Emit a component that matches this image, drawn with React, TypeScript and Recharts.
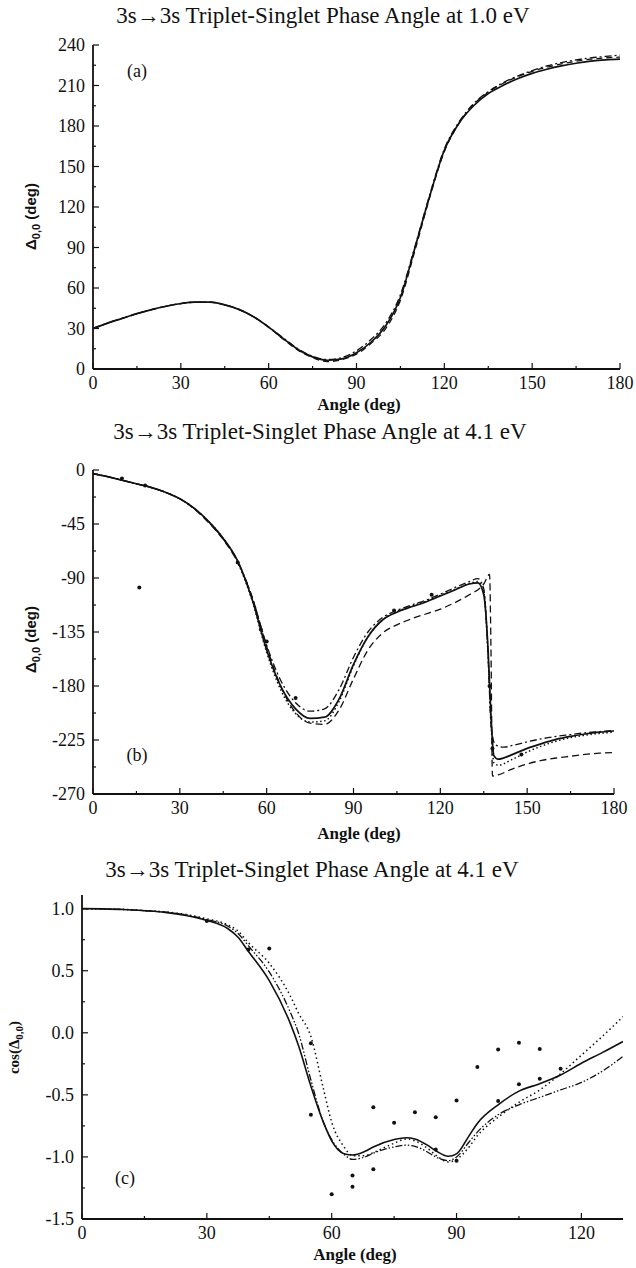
import { ComposedChart, Line, Scatter, XAxis, YAxis } from "recharts";

const SERIF = '"Liberation Serif", "DejaVu Serif", serif';
const INK = "#111";

// ---- (a) 1.0 eV ----
const angleA = [0, 5, 10, 15, 20, 25, 30, 35, 40, 45, 50, 55, 60, 65, 70, 75, 80, 85, 90, 95, 100, 105, 110, 115, 120, 125, 130, 135, 140, 145, 150, 155, 160, 165, 170, 175, 180];
const solidA = [30, 34, 37.5, 41, 44, 46.5, 48.5, 49.5, 49.5, 47.5, 44, 38.5, 31, 22.5, 14.5, 9, 6.5, 7.5, 12, 20, 32, 53, 90, 128, 162, 182, 195, 204, 210, 215, 219, 222, 224.5, 226.5, 228, 229, 229.5];
const dashedA = [30, 34, 37.5, 41, 44, 46.5, 48.5, 49.5, 49.5, 47.5, 44, 38.5, 31, 22, 14, 8.5, 5.5, 7, 11, 19, 30, 51, 88, 127, 161, 182, 196, 205, 211.5, 216.5, 220.5, 223.5, 226, 228, 229.5, 230.5, 231];
const dashDotA = [30, 34, 37.5, 41, 44, 46.5, 48.5, 49.5, 49.5, 47.5, 44, 38.5, 31, 23, 15, 9.5, 7, 8.5, 13.5, 22, 34, 55, 91, 129, 163, 183, 196.5, 205.5, 212, 217, 221, 224.5, 227, 229, 230.5, 231.5, 232.5];

// ---- (b) 4.1 eV ----
const angleB = [0, 5, 10, 15, 20, 25, 30, 35, 40, 45, 50, 55, 60, 65, 70, 75, 80, 85, 90, 95, 100, 105, 110, 115, 120, 125, 130, 133, 135, 136.5, 137.5, 138.5, 140, 145, 150, 155, 160, 165, 170, 175, 180];
const solidB = [-3, -5.5, -8.5, -11.5, -14.5, -18.5, -24, -32, -43, -57, -76, -108, -150, -181, -199, -207, -206, -191, -162, -139, -125, -118.5, -114, -110, -105, -100, -95, -94, -104, -150, -205, -238, -241, -237, -232, -228, -224.5, -222, -220, -218.5, -217.5];
const dottedB = [-3, -5.5, -8.5, -11.5, -14.5, -18.5, -24, -32, -43, -57, -77, -109, -152, -184, -203, -210, -209, -193, -163, -139, -125, -118, -113.5, -109.5, -104.5, -99.5, -94.5, -93, -102, -155, -210, -244, -246, -241, -235, -230, -226, -223, -221, -219.5, -218.5];
const angleBDashed = [0, 5, 10, 15, 20, 25, 30, 35, 40, 45, 50, 55, 60, 65, 70, 75, 80, 85, 90, 95, 100, 105, 110, 115, 120, 125, 130, 135, 137, 137.5, 138, 140, 145, 150, 155, 160, 165, 170, 175, 180];
const dashedB = [-3, -5.5, -8.5, -11.5, -14.5, -18.5, -24, -32.5, -44, -58, -77, -106, -147, -181, -202, -211, -212, -200, -174, -150, -136, -129, -124, -120, -116, -110.5, -104, -95, -87, -150, -255, -254, -249, -245, -242, -240, -238.5, -237, -236, -235.5];
const angleBDashDot = [0, 5, 10, 15, 20, 25, 30, 35, 40, 45, 50, 55, 60, 65, 70, 75, 80, 85, 90, 95, 100, 105, 110, 115, 120, 125, 130, 133, 135, 136.5, 137.5, 139, 142, 145, 150, 155, 160, 165, 170, 175, 180];
const dashDotB = [-3, -5.5, -8.5, -11.5, -14.5, -18.5, -24, -32, -43.5, -57.5, -76, -106, -146, -176, -194, -201, -199, -183, -156, -135, -123, -117, -112.5, -108.5, -103.5, -98, -93, -90.5, -99, -155, -212, -229, -231, -229.5, -226.5, -224, -222, -220.5, -219, -218, -217];
const pointAngleB = [10, 16, 18, 50, 58, 60, 70, 104, 117, 137, 138, 148];
const pointValueB = [-7, -98, -13, -77, -133, -143, -190, -117, -104, -180, -232, -237];

// ---- (c) cos of the 4.1 eV phase ----
const angleC = [0, 5, 10, 15, 20, 25, 30, 35, 37.5, 40, 45, 50, 52, 55, 58, 60, 63, 65, 68, 70, 75, 78, 80, 83, 85, 88, 90, 93, 95, 100, 105, 110, 115, 120, 125, 130];
const solidC = [1.0, 0.998, 0.993, 0.983, 0.97, 0.945, 0.905, 0.84, 0.77, 0.655, 0.42, 0.08, -0.1, -0.43, -0.72, -0.87, -0.975, -0.985, -0.955, -0.92, -0.86, -0.845, -0.855, -0.905, -0.95, -0.995, -0.975, -0.83, -0.73, -0.58, -0.47, -0.41, -0.34, -0.245, -0.16, -0.07];
const dashDotC = [1.0, 0.998, 0.993, 0.984, 0.972, 0.95, 0.912, 0.86, 0.8, 0.7, 0.49, 0.17, 0.0, -0.38, -0.72, -0.86, -0.98, -1.02, -1.0, -0.97, -0.92, -0.905, -0.915, -0.96, -1.0, -1.03, -1.0, -0.88, -0.8, -0.66, -0.58, -0.52, -0.46, -0.4, -0.31, -0.19];
const dottedC = [1.0, 0.998, 0.994, 0.985, 0.974, 0.953, 0.918, 0.87, 0.82, 0.725, 0.56, 0.3, 0.16, -0.03, -0.45, -0.72, -0.92, -0.99, -0.99, -0.965, -0.89, -0.855, -0.87, -0.93, -0.985, -1.04, -1.02, -0.92, -0.83, -0.68, -0.56, -0.46, -0.33, -0.18, -0.03, 0.13];
const pointAngleC = [30, 40, 45, 55, 55, 60, 65, 65, 70, 70, 75, 80, 85, 85, 90, 90, 95, 100, 100, 105, 105, 110, 110, 115];
const pointValueC = [0.9, 0.67, 0.68, -0.085, -0.66, -1.3, -1.15, -1.24, -0.6, -1.1, -0.725, -0.64, -0.68, -0.94, -0.545, -1.03, -0.275, -0.135, -0.55, -0.08, -0.415, -0.13, -0.37, -0.29];

// ticks
const angleTicks180 = [0, 15, 30, 45, 60, 75, 90, 105, 120, 135, 150, 165, 180];
const angleMajor180 = [0, 30, 60, 90, 120, 150, 180];
const angleTicks130 = [0, 15, 30, 45, 60, 75, 90, 105, 120];
const angleMajor130 = [0, 30, 60, 90, 120];
const phaseTicksA = [0, 15, 30, 45, 60, 75, 90, 105, 120, 135, 150, 165, 180, 195, 210, 225, 240];
const phaseMajorA = [0, 30, 60, 90, 120, 150, 180, 210, 240];
const phaseTicksB = [0, -22.5, -45, -67.5, -90, -112.5, -135, -157.5, -180, -202.5, -225, -247.5, -270];
const phaseMajorB = [0, -45, -90, -135, -180, -225, -270];
const cosTicks = [1, 0.75, 0.5, 0.25, 0, -0.25, -0.5, -0.75, -1, -1.25, -1.5];
const cosMajor = [1, 0.5, 0, -0.5, -1, -1.5];

const zip = (xs: number[], ys: number[]) => xs.map((x, i) => ({ x, y: ys[i] }));

type TickProps = {
  x?: number;
  y?: number;
  payload?: { value: number };
  side: "bottom" | "top" | "left" | "right";
  major: number[];
  fmt?: (v: number) => string;
};

// ticks point into the plot, labels only on the bottom/left axes
function Tick({ x = 0, y = 0, payload, side, major, fmt }: TickProps) {
  const v = payload ? payload.value : 0;
  const isMajor = major.includes(v);
  const len = isMajor ? 6 : 3;
  const label = fmt ? fmt(v) : String(v);
  if (side === "bottom" || side === "top") {
    const dir = side === "bottom" ? -1 : 1;
    return (
      <g>
        <line x1={x} x2={x} y1={y} y2={y + dir * len} stroke={INK} strokeWidth={1.2} />
        {side === "bottom" && isMajor && (
          <text x={x} y={y + 20} textAnchor="middle" fontFamily={SERIF} fontSize={18} fill={INK}>
            {label}
          </text>
        )}
      </g>
    );
  }
  const dir = side === "left" ? 1 : -1;
  return (
    <g>
      <line x1={x} x2={x + dir * len} y1={y} y2={y} stroke={INK} strokeWidth={1.2} />
      {side === "left" && isMajor && (
        <text x={x - 8} y={y + 6} textAnchor="end" fontFamily={SERIF} fontSize={18} fill={INK}>
          {label}
        </text>
      )}
    </g>
  );
}

const Dot = (props: any) => <circle cx={props.cx} cy={props.cy} r={2} fill={INK} />;

const axisLine = { stroke: INK, strokeWidth: 1.8 };

function axes(
  xDomain: [number, number],
  xTicks: number[],
  xMajor: number[],
  yDomain: [number, number],
  yTicks: number[],
  yMajor: number[],
  yWidth: number,
  xHeight: number,
  yFmt?: (v: number) => string
) {
  const common = { type: "number" as const, interval: 0, allowDataOverflow: true, tickSize: 0, tickMargin: 0, tickLine: false, axisLine };
  return [
    <XAxis key="xb" xAxisId="b" dataKey="x" domain={xDomain} ticks={xTicks} height={xHeight} {...common} tick={<Tick side="bottom" major={xMajor} />} />,
    <XAxis key="xt" xAxisId="t" orientation="top" dataKey="x" domain={xDomain} ticks={xTicks} height={0} {...common} tick={<Tick side="top" major={xMajor} />} />,
    <YAxis key="yl" yAxisId="l" dataKey="y" domain={yDomain} ticks={yTicks} width={yWidth} {...common} tick={<Tick side="left" major={yMajor} fmt={yFmt} />} />,
    <YAxis key="yr" yAxisId="r" orientation="right" dataKey="y" domain={yDomain} ticks={yTicks} width={0} {...common} tick={<Tick side="right" major={yMajor} />} />,
  ];
}

const lineProps = {
  xAxisId: "b",
  yAxisId: "l",
  type: "monotone" as const,
  dataKey: "y",
  dot: false,
  stroke: INK,
  isAnimationActive: false,
};

const titleStyle = (cx: number, cy: number): React.CSSProperties => ({
  position: "absolute",
  left: cx - 300,
  width: 600,
  top: cy - 13,
  lineHeight: "26px",
  textAlign: "center",
  fontFamily: SERIF,
  fontSize: 23,
  color: INK,
  whiteSpace: "nowrap",
});

const xLabelStyle = (cx: number, cy: number): React.CSSProperties => ({
  position: "absolute",
  left: cx - 100,
  width: 200,
  top: cy - 10,
  lineHeight: "20px",
  textAlign: "center",
  fontFamily: SERIF,
  fontWeight: "bold",
  fontSize: 17,
  color: INK,
});

const yLabelStyle = (cx: number, cy: number, bold: boolean): React.CSSProperties => ({
  position: "absolute",
  left: cx - 80,
  top: cy - 10,
  width: 160,
  lineHeight: "20px",
  textAlign: "center",
  transform: "rotate(-90deg)",
  fontFamily: bold ? '"Liberation Sans", Arial, sans-serif' : SERIF,
  fontWeight: "bold",
  fontSize: 15,
  color: INK,
  whiteSpace: "nowrap",
});

const tagStyle = (x: number, y: number): React.CSSProperties => ({
  position: "absolute",
  left: x - 20,
  width: 40,
  top: y - 10,
  lineHeight: "20px",
  textAlign: "center",
  fontFamily: SERIF,
  fontSize: 18,
  color: INK,
});

export default function App() {
  return (
    <div style={{ position: "absolute", left: 0, top: 0, width: 636, height: 1268, background: "#fff" }}>
      {/* (a) */}
      <div style={{ position: "absolute", left: 0, top: 0 }}>
        <ComposedChart width={636} height={400} margin={{ top: 45, right: 16, bottom: 0, left: 0 }}>
          {axes([0, 180], angleTicks180, angleMajor180, [0, 240], phaseTicksA, phaseMajorA, 93, 31)}
          <Line {...lineProps} data={zip(angleA, dashDotA)} strokeWidth={1.3} strokeDasharray="7 3 2 3" />
          <Line {...lineProps} data={zip(angleA, dashedA)} strokeWidth={1.3} strokeDasharray="6 4" />
          <Line {...lineProps} data={zip(angleA, solidA)} strokeWidth={1.7} />
        </ComposedChart>
      </div>
      <div style={titleStyle(323, 16)}>3s→3s Triplet-Singlet Phase Angle at 1.0 eV</div>
      <div style={tagStyle(137, 71)}>(a)</div>
      <div style={xLabelStyle(359, 405)}>Angle (deg)</div>
      <div style={yLabelStyle(33, 214, true)}>
        Δ<sub style={{ fontSize: 11 }}>0,0</sub> (deg)
      </div>

      {/* (b) */}
      <div style={{ position: "absolute", left: 0, top: 400 }}>
        <ComposedChart width={636} height={430} margin={{ top: 70, right: 22, bottom: 0, left: 0 }}>
          {axes([0, 180], angleTicks180, angleMajor180, [-270, 0], phaseTicksB, phaseMajorB, 93, 36)}
          <Line {...lineProps} data={zip(angleBDashed, dashedB)} strokeWidth={1.3} strokeDasharray="7 4" />
          <Line {...lineProps} data={zip(angleBDashDot, dashDotB)} strokeWidth={1.3} strokeDasharray="7 3 2 3" />
          <Line {...lineProps} data={zip(angleB, dottedB)} strokeWidth={1.5} strokeDasharray="1.5 2.5" />
          <Line {...lineProps} data={zip(angleB, solidB)} strokeWidth={1.7} />
          <Scatter xAxisId="b" yAxisId="l" dataKey="y" data={zip(pointAngleB, pointValueB)} shape={Dot} isAnimationActive={false} />
        </ComposedChart>
      </div>
      <div style={titleStyle(320, 432)}>3s→3s Triplet-Singlet Phase Angle at 4.1 eV</div>
      <div style={tagStyle(137, 755)}>(b)</div>
      <div style={xLabelStyle(359, 834)}>Angle (deg)</div>
      <div style={yLabelStyle(33, 637, true)}>
        Δ<sub style={{ fontSize: 11 }}>0,0</sub> (deg)
      </div>

      {/* (c) */}
      <div style={{ position: "absolute", left: 0, top: 830 }}>
        <ComposedChart width={636} height={438} margin={{ top: 65, right: 13, bottom: 0, left: 0 }}>
          {axes([0, 130], angleTicks130, angleMajor130, [-1.5, 1.11], cosTicks, cosMajor, 82, 49, (v) => v.toFixed(1))}
          <Line {...lineProps} data={zip(angleC, dottedC)} strokeWidth={1.5} strokeDasharray="1.5 3" />
          <Line {...lineProps} data={zip(angleC, dashDotC)} strokeWidth={1.3} strokeDasharray="7 2 1.5 2 1.5 2" />
          <Line {...lineProps} data={zip(angleC, solidC)} strokeWidth={1.6} />
          <Scatter xAxisId="b" yAxisId="l" dataKey="y" data={zip(pointAngleC, pointValueC)} shape={Dot} isAnimationActive={false} />
        </ComposedChart>
      </div>
      <div style={titleStyle(312, 870)}>3s→3s Triplet-Singlet Phase Angle at 4.1 eV</div>
      <div style={tagStyle(125, 1178)}>(c)</div>
      <div style={xLabelStyle(355, 1255)}>Angle (deg)</div>
      <div style={yLabelStyle(16, 1045, false)}>
        cos(Δ<sub style={{ fontSize: 11 }}>0,0</sub>)
      </div>
    </div>
  );
}
